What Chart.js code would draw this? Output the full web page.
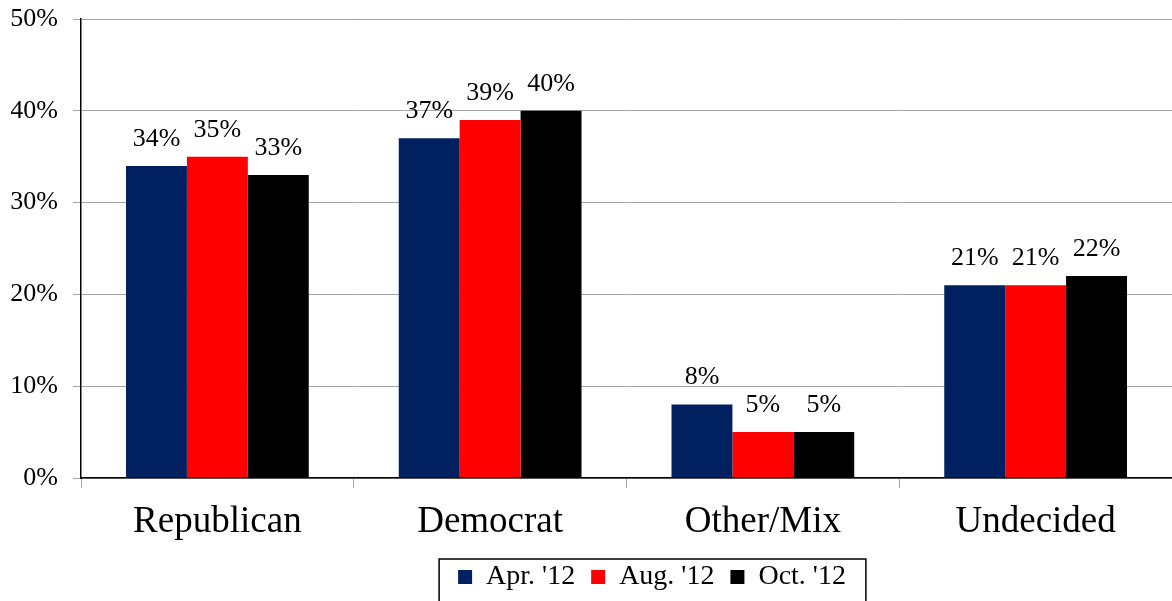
<!DOCTYPE html>
<html>
<head>
<meta charset="utf-8">
<script src="https://cdn.jsdelivr.net/npm/chart.js@4"></script>
<style>
  html, body { margin: 0; padding: 0; background: #fff; }
  #wrap { width: 1172px; height: 601px; }
</style>
</head>
<body>
<div id="wrap"><canvas id="c" width="1172" height="601"></canvas></div>
<script>
const categories = ['Republican', 'Democrat', 'Other/Mix', 'Undecided']
const seriesNames = ["Apr. '12", "Aug. '12", "Oct. '12"]
const apr12 = [34, 37, 8, 21]
const aug12 = [35, 39, 5, 21]
const oct12 = [33, 40, 5, 22]
const seriesColors = ['#002060', '#ff0000', '#000000']
const yTicks = [0, 10, 20, 30, 40, 50]

Chart.defaults.font.family = '"Liberation Serif", "Times New Roman", serif'
Chart.defaults.color = '#000'

// value labels above each bar
const barLabels = {
  id: 'barLabels',
  afterDatasetsDraw (chart) {
    const ctx = chart.ctx
    ctx.save()
    ctx.font = '26px "Liberation Serif"'
    ctx.fillStyle = '#000'
    ctx.textAlign = 'center'
    ctx.textBaseline = 'middle'
    chart.data.datasets.forEach((ds, i) => {
      chart.getDatasetMeta(i).data.forEach((bar, j) => {
        ctx.fillText(ds.data[j] + '%', bar.x, bar.y - 27)
      })
    })
    ctx.restore()
  }
}

// the legend in the original sits right of the page centre
const legendShift = {
  id: 'legendShift',
  afterLayout (chart) {
    const lg = chart.legend
    const dx = 652 - (lg.left + lg.right) / 2
    lg.left += dx
    lg.right += dx
  }
}

// frame around the legend, open at the bottom edge like the original
const legendFrame = {
  id: 'legendFrame',
  afterDraw (chart) {
    const lg = chart.legend
    const boxes = lg.legendHitBoxes
    if (!boxes || !boxes.length) return
    const first = boxes[0]
    const last = boxes[boxes.length - 1]
    const left = first.left - 19
    const right = last.left + last.width + 20
    const top = first.top - 4
    const ctx = chart.ctx
    ctx.save()
    ctx.strokeStyle = '#000'
    ctx.lineWidth = 1.5
    ctx.strokeRect(left, top, right - left, 100)
    ctx.restore()
  }
}

new Chart(document.getElementById('c'), {
  type: 'bar',
  data: {
    labels: categories,
    datasets: [
      { label: seriesNames[0], data: apr12, backgroundColor: seriesColors[0] },
      { label: seriesNames[1], data: aug12, backgroundColor: seriesColors[1] },
      { label: seriesNames[2], data: oct12, backgroundColor: seriesColors[2] }
    ]
  },
  options: {
    responsive: false,
    animation: false,
    layout: { padding: { top: 19, left: 11, right: 0, bottom: 0 } },
    datasets: {
      bar: { categoryPercentage: 0.67, barPercentage: 1.0 }
    },
    scales: {
      x: {
        grid: {
          offset: true,
          drawOnChartArea: false,
          drawTicks: true,
          tickLength: 10,
          color: '#a6a6a6'
        },
        border: { color: '#000', width: 1.5 },
        ticks: { font: { size: 37 }, padding: 12, color: '#000' },
        afterFit (scale) { scale.height = 69 }
      },
      y: {
        min: 0,
        max: 50,
        afterBuildTicks (scale) {
          scale.ticks = yTicks.map(v => ({ value: v }))
        },
        afterFit (scale) {
          scale.width = 70
          scale.paddingTop = 0
          scale.paddingBottom = 0
        },
        grid: { color: '#a6a6a6', tickLength: 8, tickColor: '#a6a6a6' },
        border: { color: '#000', width: 1.5 },
        ticks: {
          font: { size: 26 },
          padding: 15,
          color: '#000',
          callback: v => v + '%'
        }
      }
    },
    plugins: {
      legend: {
        position: 'bottom',
        labels: {
          boxWidth: 14,
          boxHeight: 14,
          padding: 16,
          font: { size: 28 },
          color: '#000'
        }
      },
      tooltip: { enabled: false }
    }
  },
  plugins: [barLabels, legendShift, legendFrame]
})
</script>
</body>
</html>
